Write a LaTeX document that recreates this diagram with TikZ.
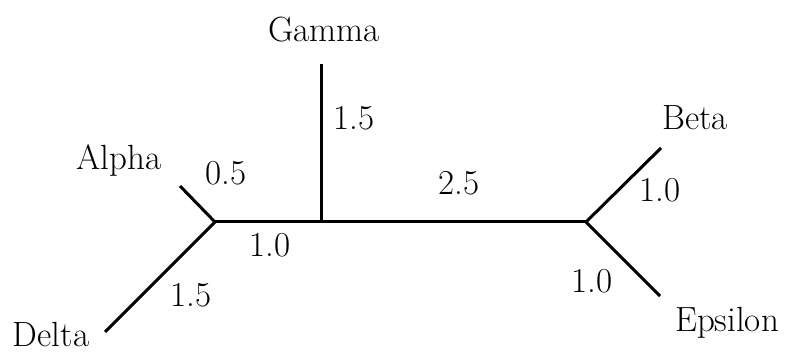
\documentclass[tikz,border=0pt]{standalone}
\begin{document}
\begin{tikzpicture}[x=0.5pt,y=-0.5pt,
  branch/.style={line width=1.5pt},
  lbl/.style={anchor=base,inner sep=0pt,font=\fontsize{17.5}{21}\selectfont}]
\useasboundingbox (0,0) rectangle (788,352);
% tree points
\coordinate (L) at (215,222);
\coordinate (G) at (321.5,222);
\coordinate (R) at (586,222);
\coordinate (a) at (180,186);
\coordinate (d) at (105,332);
\coordinate (g) at (321.5,64);
\coordinate (b) at (661,148);
\coordinate (e) at (660,296);
% branches
\draw[branch] (a) -- (L) -- (d);
\draw[branch] (L) -- (R);
\draw[branch] (G) -- (g);
\draw[branch] (b) -- (R) -- (e);
% leaf labels
\node[lbl] (tGamma) at (324,42) {Gamma};
\node[lbl] (tAlpha) at (119,170) {Alpha};
\node[lbl] (tDelta) at (51,347) {Delta};
\node[lbl] (tBeta) at (695,130) {Beta};
\node[lbl] (tEps) at (727,332) {Epsilon};
% branch lengths
\node[lbl] (wG) at (354,130) {1.5};
\node[lbl] (wA) at (226,185) {0.5};
\node[lbl] (wLR1) at (270,257) {1.0};
\node[lbl] (wD) at (191,307) {1.5};
\node[lbl] (wM) at (459,195) {2.5};
\node[lbl] (wB) at (660,202) {1.0};
\node[lbl] (wE) at (592,293) {1.0};
\end{tikzpicture}
\end{document}
